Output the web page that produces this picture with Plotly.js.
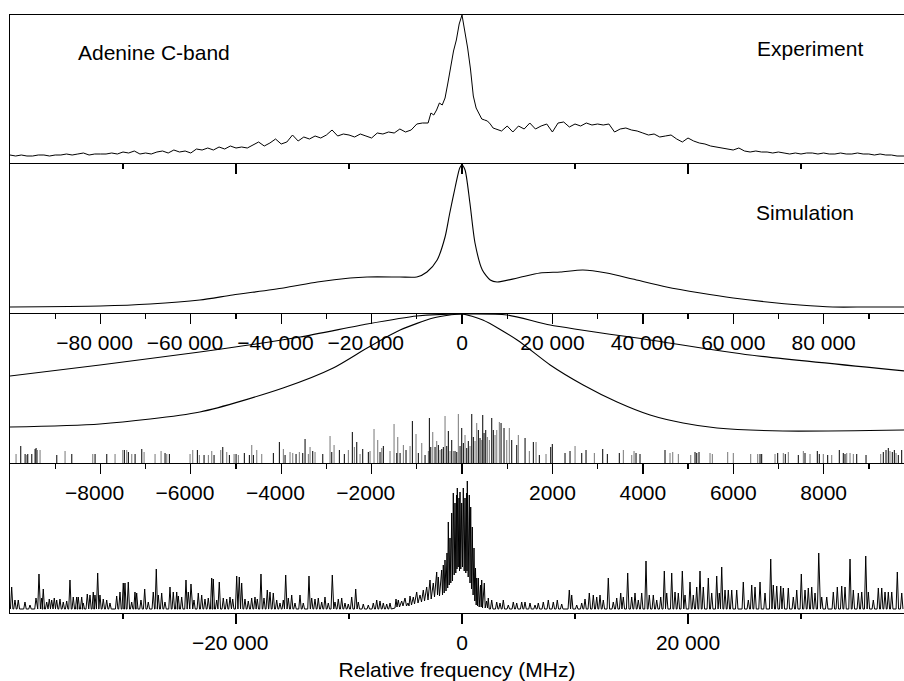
<!DOCTYPE html>
<html>
<head>
<meta charset="utf-8">
<script src="https://cdn.plot.ly/plotly-3.0.1.min.js"></script>
<style>html,body{margin:0;padding:0;background:#fff;overflow:hidden}</style>
</head>
<body>
<div id="chart" style="width:904px;height:681px"></div>
<script>
// ---------------- DATA ----------------
// Panel 1: experiment (relative frequency in MHz, intensity arbitrary units)
const expX = [
-40000,-39500,-39000,-38500,-38000,-37500,-37000,-36500,-36000,-35500,
-35000,-34500,-34000,-33500,-33000,-32500,-32000,-31500,-31000,-30500,
-30000,-29500,-29000,-28500,-28000,-27500,-27000,-26500,-26000,-25500,
-25000,-24500,-24000,-23500,-23000,-22500,-22000,-21500,-21000,-20500,
-20000,-19500,-19000,-18500,-18000,-17500,-17000,-16500,-16000,-15500,
-15000,-14500,-14000,-13500,-13000,-12500,-12000,-11500,-11000,-10500,
-10000,-9500,-9000,-8500,-8000,-7500,-7000,-6500,-6000,-5500,
-5000,-4500,-4000,-3500,-3000,
-2750,-2500,-2250,-2000,-1750,-1500,-1250,-1000,-750,-500,-250,0,
250,500,750,1000,1250,1500,1750,2000,2250,2500,2750,3000,
3500,4000,4500,5000,5500,6000,6500,7000,7500,8000,
8500,9000,9500,10000,10500,11000,11500,12000,12500,13000,
13500,14000,14500,15000,15500,16000,16500,17000,17500,18000,
18500,19000,19500,20000,20500,21000,21500,22000,22500,23000,
23500,24000,24500,25000,25500,26000,26500,27000,27500,28000,
28500,29000,29500,30000,30500,31000,31500,32000,32500,33000,
33500,34000,34500,35000,35500,36000,36500,37000,37500,38000,
38500,39000,39500];
const expY = [
9,8,9,8,8,9,9,8,9,9,
10,9,10,11,9,10,10,10,11,10,
12,11,13,10,11,10,12,13,11,14,
12,13,11,15,14,16,14,17,15,18,
16,17,16,19,22,18,21,25,20,22,
29,23,27,25,28,26,29,34,28,30,
29,27,30,28,26,31,30,32,31,35,
32,34,40,41,41,
51,49,54,61,59,66,81,98,113,124,140,149,
134,116,95,68,56,50,45,44,43,40,36,35,
33,38,32,38,35,41,35,38,40,32,
41,42,37,40,38,41,39,40,39,40,
32,35,36,34,33,31,29,30,27,28,
29,25,22,26,23,21,20,18,17,16,
15,14,16,13,12,13,12,12,11,12,
11,10,11,10,11,11,10,11,10,10,
11,10,10,11,10,10,9,10,9,9,
8,8,8];

// Panel 2: simulation
const simX = [-40000,-32000,-27600,-23200,-20300,-15800,-12800,-9900,-8400,-5500,-4000,-3100,-2200,-1500,-1100,-600,-200,0,270,700,1150,1800,2500,3100,4900,6900,8700,10700,12800,15100,18100,21100,24000,27000,29900,32800,35800,39200];
const simY = [7,8,10,14,19,26,32,36,37,37,37,42,54,77,100,127,146,149,144,111,71,44,34,32,36,41,42,44,41,35,27,21,16,12,9,7,7,7];

// Panel 3: two line-shape curves (wide axis, MHz)
const wideX = [-100000,-80100,-58000,-35800,-21000,-10000,0,10000,19500,41600,63700,98000];
const wideY = [88,99,112,127,140,148,150,149,139,124,109,93];
const narrowX = [-100000,-80100,-58000,-39600,-28500,-21000,-13700,-6400,-2700,0,4600,12200,19500,26800,34300,41600,48900,56400,71000,98000];
const narrowY = [37,40,52,76,96,116,134,146,149,150,144,124,99,79,62,49,41,36,33,34];

// Panel 3: stick spectrum (fine axis, MHz) - black and grey transitions
const blackX = [
-9762,-9666,-9607,-9518,-9445,-9423,-8965,-8633,-8118,-7859,
-7470,-7381,-7233,-7085,-6570,-6474,-5855,-5707,-5486,-5293,
-5147,-4999,-4816,-4705,-4616,-4174,-4041,-3915,-3672,-3524,
-3473,-3303,-3081,-2882,-2714,-2604,-2427,-2329,-2197,-2073,
-1814,-1741,-1444,-1371,-1239,-1099,-967,-818,-723,-692,
-597,-524,-449,-414,-338,-303,-228,-155,-117,-44,
-7,29,104,139,215,250,361,398,458,487,
524,657,692,863,929,1099,1210,1394,1577,1710,
1962,1997,2278,2389,2648,2743,3112,3214,3479,3849,
3937,4490,5154,5192,5242,6592,6629,6983,7151,7439,
7587,7859,7903,8089,8346,8434,8472,8731,8937,9319,
9379,9430,9518,9563,9651,9726];
const blackH = [
18,10,10,10,15,16,9,10,10,10,
14,12,10,15,11,10,14,9,9,17,
9,10,11,9,9,11,22,9,10,11,
25,13,10,12,14,10,32,22,15,12,
12,18,11,11,14,43,11,9,46,17,
17,19,15,17,18,33,24,13,12,18,
36,21,16,23,50,27,34,26,49,31,
34,46,34,41,36,24,19,26,22,9,
17,20,11,13,11,14,15,10,11,11,
10,14,12,11,12,10,10,11,10,9,
11,13,10,9,14,11,10,10,9,12,
14,16,12,14,9,14];
const grayX = [
-9866,-9629,-9394,-9335,-8782,-8169,-7676,-7505,-7417,-7306,
-7034,-6791,-6658,-6532,-6017,-5957,-5811,-5612,-5537,-5338,
-5205,-5043,-4948,-4652,-4541,-4431,-3953,-3805,-3745,-3599,
-3400,-3362,-3252,-2920,-2831,-2515,-2382,-2256,-2035,-1947,
-1865,-1776,-1593,-1504,-1422,-1298,-1150,-1018,-891,-745,
-648,-560,-487,-376,-265,-192,-82,66,177,288,
325,436,560,604,730,768,825,989,1046,1245,
1489,1637,1858,2500,2927,3568,3754,3805,4601,4661,
4785,5059,5486,5537,5877,6001,6386,6541,6924,7107,
7218,7550,7698,7992,8178,8510,8583,8656,9262,9467,
9600];
const grayH = [
10,9,14,14,13,10,10,14,14,10,
12,10,13,10,10,14,9,9,13,14,
12,10,9,19,14,10,15,12,11,12,
10,17,12,28,19,14,17,10,13,35,
24,16,13,40,27,19,18,30,21,13,
32,23,14,48,13,13,50,29,18,23,
41,24,27,24,29,34,42,24,36,29,
13,22,10,18,11,14,9,13,11,12,
10,9,11,10,12,11,10,10,10,11,
12,13,10,10,9,11,11,10,10,13,
11];

// Panel 4: line spectrum. Isolated peaks in the wings + dense central region
const p4Baseline = 4;
const p4PeakX = [
-39852,-39560,-39267,-38675,-38232,-37701,-37436,-37197,-37055,-36754,
-36524,-36312,-36081,-35869,-35577,-35285,-34984,-34692,-34400,-34099,
-33957,-33657,-33515,-33161,-32922,-32630,-32480,-32241,-32037,-31745,
-31444,-31152,-30559,-30267,-29975,-29825,-29532,-29232,-28940,-28789,
-28409,-28081,-27762,-27320,-27054,-26877,-26577,-26285,-25842,-25550,
-25249,-25107,-24807,-24426,-24222,-23984,-23718,-23337,-23037,-22745,
-22452,-22152,-22010,-21709,-21479,-21125,-20824,-20532,-20293,-19939,
-19709,-19497,-19205,-18912,-18612,-18320,-18116,-17789,-17523,-17231,
-16992,-16700,-16399,-16107,-15815,-15603,-15372,-15072,-14780,-14337,
-14045,-13541,-13302,-13010,-12717,-12417,-12125,-11832,-11478,-11240,
-10947,-10647,-10355,-10062,-9762,-9408,-9177,-8735,-8292,-7850,
-7549,-7257,-6965,-6664,-6372,
2628,3071,3363,3655,4098,4540,4841,5283,5576,6018,
6461,6753,7195,7638,8080,8434,8823,9496,9708,10151,
10593,10886,11266,11620,11921,12213,12505,12948,13390,13691,
14045,14275,14664,15018,15311,15603,15903,16284,16576,16930,
17231,17585,17904,18116,18558,18851,19143,19497,19736,20178,
20470,20771,21063,21355,21798,22098,22541,22771,22983,23276,
23568,23868,24311,24895,25338,25638,25931,26373,26816,27320,
27550,27851,28205,28435,28878,29320,29621,30028,30356,30648,
30948,31241,31568,31833,32276,32860,33214,33603,33896,34338,
34630,35073,35373,35727,35958,36400,36843,37143,37436,37728,
38028,38524,38913];
const p4PeakH = [
26,13,13,11,8,15,39,15,24,11,
14,13,15,13,14,11,12,33,16,16,
16,16,10,19,18,21,18,40,18,14,
13,10,17,21,30,30,31,11,21,20,
13,24,11,21,44,18,20,11,26,21,
21,17,16,33,21,29,13,20,18,14,
15,35,34,13,31,15,14,16,14,37,
36,30,14,12,15,16,14,39,15,23,
21,20,13,10,13,38,15,18,10,18,
10,37,15,14,15,11,16,10,38,11,
14,15,10,9,16,24,11,9,8,10,
13,12,10,9,10,
13,11,10,13,8,11,10,11,11,10,
8,10,11,13,11,13,9,23,18,8,
10,14,20,18,16,18,13,35,11,15,
20,16,40,16,20,13,20,52,18,18,
13,16,42,20,40,21,20,42,18,31,
18,26,42,26,35,20,37,20,46,23,
23,23,23,31,13,28,26,31,20,54,
28,27,27,25,25,16,23,39,23,25,
26,20,60,16,16,21,26,27,26,54,
23,20,21,57,21,13,25,25,21,21,
21,41,20];
const p4CoreX = [
-5930,-5841,-5753,-5637,-5531,-5337,-5222,-5045,-4912,-4779,
-4691,-4602,-4469,-4310,-4204,-4009,-3894,-3717,-3584,-3425,
-3319,-3124,-3009,-2832,-2726,-2540,-2434,-2239,-2168,-2097,
-1991,-1797,-1726,-1655,-1575,-1505,-1416,-1328,-1266,-1212,
-1133,-1062,-991,-912,-841,-770,-690,-620,-549,-487,
-443,-416,-336,-266,-221,-177,-106,-27,44,115,
195,266,336,398,443,469,549,646,708,770,
841,912,982,1062,1133,1195,1257,1301,1372,1443,
1522,1637,1699,1743,1814,1974,2053,2168,2257,2328,
2407,2478];
const p4CoreY = [
5,14,6,13,6,12,7,15,7,10,
7,17,8,16,9,21,10,18,11,23,
12,26,13,33,14,30,16,41,18,36,
17,43,18,48,20,53,22,60,25,91,
28,75,30,100,32,120,38,110,40,118,
44,125,46,115,42,121,44,110,46,125,
42,115,40,120,42,132,36,118,30,106,
24,86,18,65,12,45,8,35,7,35,
6,28,6,33,5,30,5,12,5,15,
4,4];

// Tick labels
const bottomTickVals = [-20000, 0, 20000];
const bottomTickText = ['\u221220 000\u2007', '0', '20 000'];
const bottomMinorVals = [-30000, -10000, 10000, 30000];
const wideTickVals = [-80000,-60000,-40000,-20000,0,20000,40000,60000,80000];
const wideTickText = ['\u221280 000\u2007','\u221260 000\u2007','\u221240 000\u2007','\u221220 000\u2007','0','20 000','40 000','60 000','80 000'];
const wideMinorVals = [-90000,-70000,-50000,-30000,-10000,10000,30000,50000,70000,90000];
const fineTickVals = [-8000,-6000,-4000,-2000,0,2000,4000,6000,8000];
const fineTickText = ['\u22128000\u2007','\u22126000\u2007','\u22124000\u2007','\u22122000\u2007','','2000','4000','6000','8000'];
const fineMinorVals = [-9000,-7000,-5000,-3000,-1000,1000,3000,5000,7000,9000];

// ---------------- BUILD ----------------
function sticks(xs, hs) {
  const X = [], Y = [];
  xs.forEach((x, i) => { X.push(x, x, null); Y.push(0, hs[i], null); });
  return {X, Y};
}
function lineSpectrum() {
  const HALF = 110;
  const X = [], Y = [];
  const c0 = p4CoreX[0], c1 = p4CoreX[p4CoreX.length - 1];
  p4PeakX.forEach((x, i) => { if (x < c0) { X.push(x - HALF, x, x + HALF); Y.push(p4Baseline, p4PeakH[i], p4Baseline); } });
  p4CoreX.forEach((x, i) => { X.push(x); Y.push(p4CoreY[i]); });
  p4PeakX.forEach((x, i) => { if (x > c1) { X.push(x - HALF, x, x + HALF); Y.push(p4Baseline, p4PeakH[i], p4Baseline); } });
  return {X, Y};
}
const bs = sticks(blackX, blackH);
const gs = sticks(grayX, grayH);
const ls = lineSpectrum();

const FONT = {family: 'Liberation Sans, Arial, Helvetica, sans-serif', size: 21, color: '#000'};
const LW = 1.3;
const BLK = '#000';
const D1 = [0.75084, 1], D2 = [0.5, 0.75084], D3 = [0.24916, 0.5], D4 = [0, 0.24916];
const XR = [-40000, 39115];

const traces = [
  {x: expX, y: expY, xaxis: 'x5', yaxis: 'y4', mode: 'lines', line: {color: BLK, width: 1}, hoverinfo: 'skip'},
  {x: simX, y: simY, xaxis: 'x4', yaxis: 'y3', mode: 'lines', line: {color: BLK, width: 1.1, shape: 'spline', smoothing: 0.7}, hoverinfo: 'skip'},
  {x: wideX, y: wideY, xaxis: 'x3', yaxis: 'y2', mode: 'lines', line: {color: BLK, width: 1.1, shape: 'spline', smoothing: 0.6}, hoverinfo: 'skip'},
  {x: narrowX, y: narrowY, xaxis: 'x3', yaxis: 'y2', mode: 'lines', line: {color: BLK, width: 1.1, shape: 'spline', smoothing: 0.7}, hoverinfo: 'skip'},
  {x: gs.X, y: gs.Y, xaxis: 'x2', yaxis: 'y2', mode: 'lines', line: {color: '#777', width: 1}, connectgaps: false, hoverinfo: 'skip'},
  {x: bs.X, y: bs.Y, xaxis: 'x2', yaxis: 'y2', mode: 'lines', line: {color: BLK, width: 1}, connectgaps: false, hoverinfo: 'skip'},
  {x: ls.X, y: ls.Y, xaxis: 'x', yaxis: 'y', mode: 'lines', line: {color: BLK, width: 1}, hoverinfo: 'skip'}
];

function yax(domain, range) {
  return {domain: domain, range: range, anchor: 'x', showline: true, linewidth: LW, linecolor: BLK,
    ticks: '', showticklabels: false, showgrid: false, zeroline: false, fixedrange: true};
}
function topAxis(anchor, range, vals, text, minorVals, showLabels) {
  return {overlaying: 'x', anchor: anchor, side: 'top', range: range, showline: true, linewidth: LW, linecolor: BLK,
    ticks: 'inside', ticklen: 10, tickwidth: LW, tickcolor: BLK, tickmode: 'array', tickvals: vals, ticktext: text,
    showticklabels: showLabels, ticklabelposition: 'inside', tickfont: FONT, ticklabelstandoff: 13,
    minor: {tickmode: 'array', tickvals: minorVals, ticks: 'inside', ticklen: 5, tickwidth: LW, tickcolor: BLK, showgrid: false},
    showgrid: false, zeroline: false, fixedrange: true};
}

const layout = {
  width: 904, height: 681,
  margin: {l: 10, r: 0, t: 15, b: 68},
  paper_bgcolor: '#fff', plot_bgcolor: 'rgba(0,0,0,0)',
  showlegend: false, font: FONT,
  xaxis: {domain: [0, 1], anchor: 'y', range: XR, showline: true, linewidth: LW, linecolor: BLK,
    ticks: 'outside', ticklen: 10, tickwidth: LW, tickcolor: BLK, tickmode: 'array',
    tickvals: bottomTickVals, ticktext: bottomTickText, tickfont: FONT,
    minor: {tickmode: 'array', tickvals: bottomMinorVals, ticks: 'outside', ticklen: 5, tickwidth: LW, tickcolor: BLK, showgrid: false},
    showgrid: false, zeroline: false, fixedrange: true,
    title: {text: 'Relative frequency (MHz)', font: FONT, standoff: 9}},
  xaxis2: topAxis('y', [-10000, 9777], fineTickVals, fineTickText, fineMinorVals, true),
  xaxis3: topAxis('y2', [-100000, 97770], wideTickVals, wideTickText, wideMinorVals, true),
  xaxis4: topAxis('y3', XR, bottomTickVals, bottomTickText, bottomMinorVals, false),
  xaxis5: {overlaying: 'x', anchor: 'y4', side: 'top', range: XR, showline: true, linewidth: LW, linecolor: BLK,
    ticks: '', showticklabels: false, showgrid: false, zeroline: false, fixedrange: true},
  yaxis: yax(D4, [0, 149]),
  yaxis2: yax(D3, [0, 150]),
  yaxis3: yax(D2, [0, 150]),
  yaxis4: yax(D1, [0, 149]),
  annotations: [
    {text: 'Adenine C-band', xref: 'paper', yref: 'paper', x: 0.074, y: 0.938, xanchor: 'left', yanchor: 'middle', showarrow: false, font: FONT},
    {text: 'Experiment', xref: 'paper', yref: 'paper', x: 0.8335, y: 0.9448, xanchor: 'left', yanchor: 'middle', showarrow: false, font: FONT},
    {text: 'Simulation', xref: 'paper', yref: 'paper', x: 0.8325, y: 0.6689, xanchor: 'left', yanchor: 'middle', showarrow: false, font: FONT}
  ]
};

Plotly.newPlot('chart', traces, layout, {displayModeBar: false, staticPlot: true, responsive: false});
</script>
</body>
</html>
